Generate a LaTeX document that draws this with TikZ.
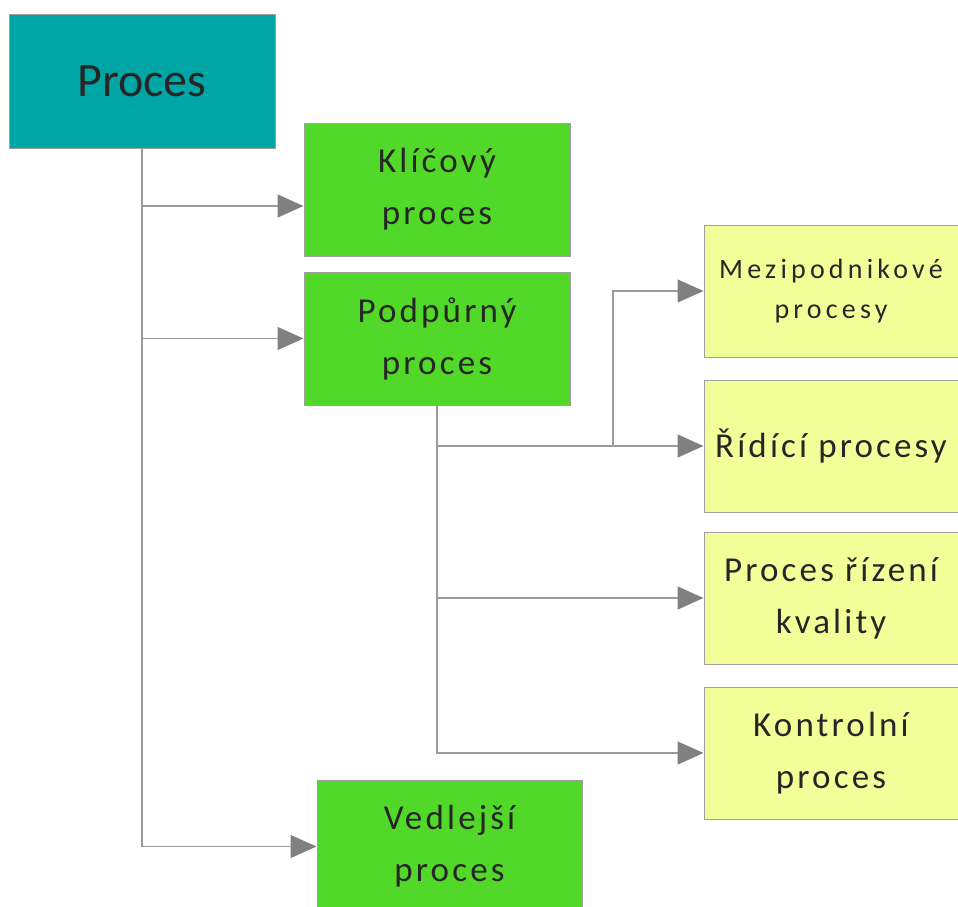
\documentclass[tikz,border=0pt]{standalone}
\usepackage{fontspec}
\setmainfont{Carlito}
\newfontfamily\trackfont[LetterSpace=9]{Carlito}
\newfontfamily\widefont[LetterSpace=15]{Carlito}
\usetikzlibrary{arrows.meta}

\definecolor{tealfill}{RGB}{0,166,166}
\definecolor{greenfill}{RGB}{82,216,40}
\definecolor{yellowfill}{RGB}{242,255,153}
\definecolor{framegray}{RGB}{160,160,160}
\definecolor{linegray}{RGB}{155,155,155}
\definecolor{tipgray}{RGB}{128,128,128}
\definecolor{textdark}{RGB}{38,38,38}

\tikzset{
  box/.style={draw=framegray, line width=1pt, inner sep=0pt, align=center,
    text=textdark, minimum height=133pt},
  rootbox/.style={box, fill=tealfill, minimum width=266pt,
    font=\fontsize{48}{58}\selectfont},
  kindbox/.style={box, fill=greenfill, minimum width=266pt,
    font=\trackfont\fontsize{35}{52}\selectfont},
  subbox/.style={box, fill=yellowfill, minimum width=254pt, minimum height=132pt,
    font=\trackfont\fontsize{35}{52}\selectfont},
  conn/.style={draw=linegray, line width=1.2pt,
    -{Triangle[length=26pt, width=23pt, color=tipgray]}},
}

\begin{document}
\begin{tikzpicture}[x=1pt, y=-1pt]
  \useasboundingbox (0,0) rectangle (958,907);

  % root process
  \node[rootbox] (P) at (142,81.5) {Proces};

  % process kinds
  \node[kindbox] (K)   at (437,189.5) {Klíčový\\proces};
  \node[kindbox] (Pod) at (437,338.5) {Podpůrný\\proces};
  \node[kindbox, minimum width=265pt] (V) at (449.5,846.5) {Vedlejší\\proces};

  % supporting processes
  \node[subbox, font=\widefont\fontsize{28}{40}\selectfont] (M) at (831,291) {Mezipodnikové\\procesy};
  \node[subbox] (R) at (831,446) {Řídící procesy};
  \node[subbox] (Q) at (831,598) {Proces řízení\\kvality};
  \node[subbox] (C) at (831,753) {Kontrolní\\proces};

  % branching point towards the inter-company processes
  \coordinate (J) at (613,446);

  % connectors from the root
  \draw[conn] (P.south) |- ([yshift=-16.5pt]K.west);
  \draw[conn] (P.south) |- (Pod.west);
  \draw[conn] (P.south) |- (V.west);

  % connectors from the supporting process
  \draw[conn] (Pod.south) |- (R.west);
  \draw[conn] (Pod.south) |- (Q.west);
  \draw[conn] (Pod.south) |- (C.west);
  \draw[conn] (J) |- (M.west);
\end{tikzpicture}
\end{document}
